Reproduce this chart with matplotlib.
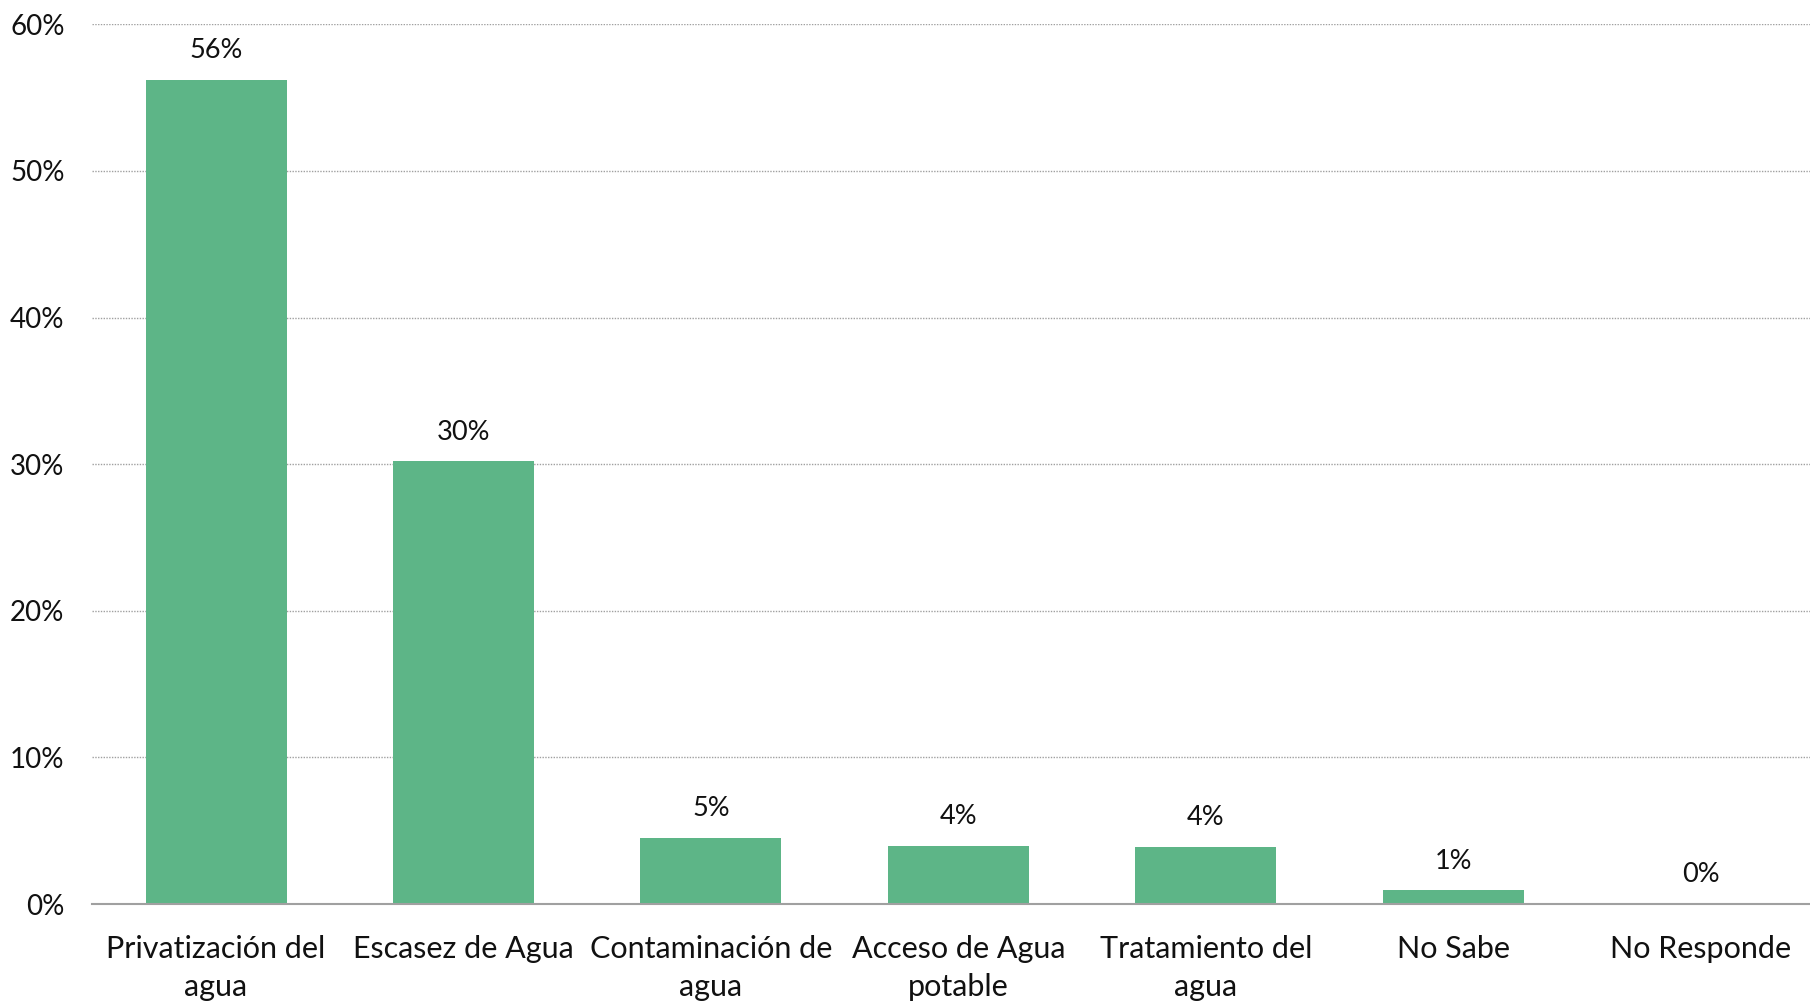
import matplotlib.pyplot as plt
from matplotlib.ticker import FuncFormatter

categories = ["Privatización del\nagua", "Escasez de Agua", "Contaminación de\nagua",
              "Acceso de Agua\npotable", "Tratamiento del\nagua", "No Sabe", "No Responde"]
values = [56.2, 30.2, 4.5, 3.97, 3.88, 0.93, 0.05]
labels = ["56%", "30%", "5%", "4%", "4%", "1%", "0%"]
yticks = [0, 10, 20, 30, 40, 50, 60]

plt.rcParams['font.family'] = ['Lato', 'DejaVu Sans']

fig = plt.figure(figsize=(18.1, 10.02), dpi=100)
# axis runs a little past the right edge, as in the reference
ax = fig.add_axes([0.051, 0.0978, 0.957, 0.878])

x = range(len(categories))
bars = ax.bar(x, values, width=0.57, color="#5DB587", zorder=3)

for b, lab in zip(bars, labels):
    ax.annotate(lab, (b.get_x() + b.get_width() / 2, b.get_height()),
                xytext=(0, 12), textcoords="offset points",
                ha="center", va="bottom", fontsize=19.5, color="#111111")

ax.set_xlim(-0.5, len(categories) - 0.5)
ax.set_ylim(0, 60)
ax.set_yticks(yticks)
ax.yaxis.set_major_formatter(FuncFormatter(lambda v, p: f"{int(v)}%"))
ax.set_xticks(list(x))
ax.set_xticklabels(categories, fontsize=22, color="#111111", linespacing=1.45)
ax.tick_params(axis="y", labelsize=20, length=0, pad=20, labelcolor="#111111")
ax.tick_params(axis="x", length=0, pad=22)

ax.grid(axis="y", linestyle=(0, (1, 1)), color="#a0a0a0", linewidth=1.0, zorder=0)
for s in ["top", "right", "left"]:
    ax.spines[s].set_visible(False)
ax.spines["bottom"].set_color("#a0a0a0")
ax.spines["bottom"].set_linewidth(1.5)
ax.spines["bottom"].set_zorder(4)

fig.savefig("out.png", dpi=100)
